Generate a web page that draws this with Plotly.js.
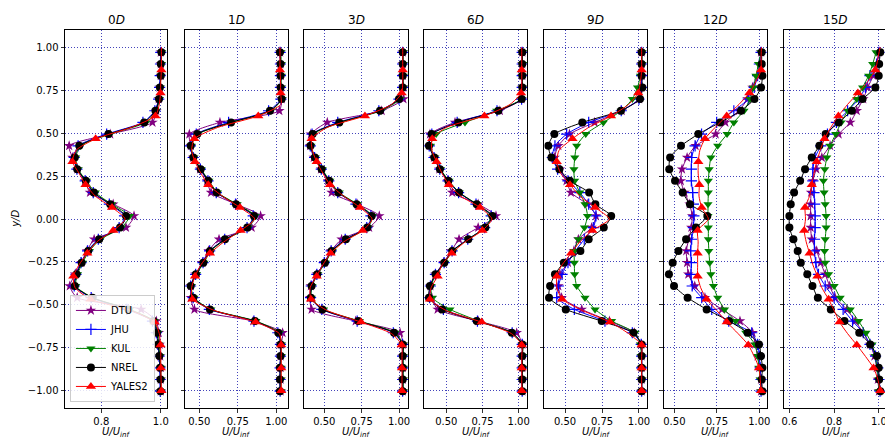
<!DOCTYPE html>
<html><head><meta charset="utf-8">
<script src="https://cdn.plot.ly/plotly-3.0.1.min.js"></script>
<style>html,body{margin:0;padding:0;overflow:hidden;background:#fff}#chart{width:887px;height:439px}</style>
</head><body><div id="chart"></div>
<script>
// ---------- data ----------
const STATIONS = ['0', '1', '3', '6', '9', '12', '15'];
const Y_GRID = [0.97, 0.902, 0.834, 0.766, 0.698, 0.63, 0.562, 0.494, 0.426, 0.358, 0.29, 0.222, 0.154, 0.086, 0.018,
  -0.05, -0.118, -0.186, -0.254, -0.322, -0.39, -0.458, -0.526, -0.594, -0.662, -0.73, -0.798, -0.866, -0.934, -1.002];
const Y_YALES2 = [1.0, 0.933, 0.867, 0.8, 0.733, 0.667, 0.6, 0.533, 0.467, 0.4, 0.333, 0.267, 0.2, 0.133, 0.067, 0.0,
  -0.067, -0.133, -0.2, -0.267, -0.333, -0.4, -0.467, -0.533, -0.6, -0.667, -0.733, -0.8, -0.867, -0.933, -1.0];
const Y_TICKS = [-1.0, -0.75, -0.5, -0.25, 0.0, 0.25, 0.5, 0.75, 1.0];
const Y_TICK_TEXT = ['\u22121.00', '\u22120.75', '\u22120.50', '\u22120.25', '0.00', '0.25', '0.50', '0.75', '1.00'];
const X_TICKS = [[0.8, 1.0], [0.5, 0.75, 1.0], [0.5, 0.75, 1.0], [0.5, 0.75, 1.0], [0.5, 0.75, 1.0], [0.5, 0.75, 1.0], [0.6, 0.8, 1.0]];
const X_TICK_TEXT = [['0.8', '1.0'], ['0.50', '0.75', '1.00'], ['0.50', '0.75', '1.00'], ['0.50', '0.75', '1.00'], ['0.50', '0.75', '1.00'], ['0.50', '0.75', '1.00'], ['0.6', '0.8', '1.0']];

// 0D
const DTU_0D = [1.0, 1.0, 1.0, 0.996, 0.993, 0.985, 0.972, 0.83, 0.692, 0.703, 0.72, 0.745, 0.762, 0.84, 0.91, 0.883, 0.776, 0.752, 0.733, 0.712, 0.694, 0.719, 0.934, 0.985, 0.993, 0.996, 0.998, 1.0, 1.0, 1.0];
const JHU_0D = [1.0, 0.999, 0.998, 0.996, 0.993, 0.98, 0.94, 0.818, 0.722, 0.709, 0.718, 0.746, 0.773, 0.827, 0.878, 0.86, 0.79, 0.754, 0.732, 0.715, 0.709, 0.766, 0.886, 0.972, 0.985, 0.99, 0.994, 0.997, 0.998, 0.998];
const KUL_0D = [1.003, 1.002, 1.0, 0.998, 0.995, 0.985, 0.95, 0.83, 0.73, 0.714, 0.722, 0.75, 0.78, 0.835, 0.895, 0.868, 0.797, 0.76, 0.737, 0.72, 0.714, 0.771, 0.895, 0.978, 0.99, 0.993, 0.997, 1.0, 1.0, 1.0];
const NREL_0D = [1.002, 1.0, 1.0, 0.997, 0.994, 0.982, 0.944, 0.824, 0.726, 0.711, 0.719, 0.748, 0.775, 0.83, 0.883, 0.863, 0.793, 0.756, 0.734, 0.717, 0.711, 0.77, 0.891, 0.975, 0.987, 0.991, 0.995, 0.998, 0.999, 0.999];
const YALES2_0D = [1.002, 1.002, 1.002, 1.0, 0.999, 0.995, 0.982, 0.9, 0.781, 0.715, 0.703, 0.725, 0.747, 0.78, 0.836, 0.88, 0.84, 0.785, 0.753, 0.725, 0.706, 0.712, 0.764, 0.9, 0.979, 0.995, 0.999, 1.0, 1.0, 1.001, 1.002];
// 1D
const DTU_1D = [1.025, 1.028, 1.03, 1.03, 1.035, 1.02, 0.634, 0.435, 0.445, 0.46, 0.505, 0.55, 0.576, 0.74, 0.898, 0.84, 0.628, 0.56, 0.52, 0.475, 0.445, 0.445, 0.468, 0.85, 1.041, 1.03, 1.028, 1.028, 1.028, 1.028];
const JHU_1D = [1.025, 1.027, 1.027, 1.027, 1.03, 0.95, 0.69, 0.48, 0.442, 0.46, 0.507, 0.556, 0.61, 0.735, 0.85, 0.81, 0.665, 0.567, 0.524, 0.476, 0.443, 0.46, 0.565, 0.855, 1.01, 1.027, 1.027, 1.025, 1.025, 1.025];
const KUL_1D = [1.03, 1.032, 1.032, 1.032, 1.036, 0.965, 0.712, 0.49, 0.447, 0.464, 0.512, 0.562, 0.618, 0.745, 0.862, 0.818, 0.672, 0.574, 0.53, 0.482, 0.447, 0.465, 0.575, 0.868, 1.02, 1.032, 1.032, 1.03, 1.03, 1.03];
const NREL_1D = [1.024, 1.028, 1.028, 1.028, 1.035, 0.959, 0.706, 0.487, 0.444, 0.461, 0.509, 0.558, 0.613, 0.738, 0.855, 0.812, 0.667, 0.569, 0.526, 0.478, 0.444, 0.461, 0.569, 0.861, 1.013, 1.028, 1.028, 1.024, 1.024, 1.024];
const YALES2_1D = [1.024, 1.024, 1.024, 1.028, 1.028, 1.03, 0.883, 0.62, 0.468, 0.45, 0.472, 0.51, 0.558, 0.65, 0.764, 0.86, 0.768, 0.66, 0.569, 0.51, 0.472, 0.45, 0.455, 0.6, 0.866, 1.02, 1.032, 1.032, 1.032, 1.032, 1.032];
// 3D
const DTU_3D = [1.025, 1.025, 1.025, 1.028, 1.03, 0.884, 0.52, 0.41, 0.405, 0.43, 0.478, 0.525, 0.549, 0.72, 0.868, 0.80, 0.616, 0.545, 0.5, 0.45, 0.41, 0.405, 0.415, 0.71, 1.007, 1.025, 1.025, 1.025, 1.025, 1.025];
const JHU_3D = [1.024, 1.024, 1.024, 1.024, 1.0, 0.865, 0.59, 0.418, 0.406, 0.435, 0.48, 0.53, 0.59, 0.712, 0.812, 0.784, 0.64, 0.546, 0.5, 0.45, 0.413, 0.408, 0.483, 0.72, 0.962, 1.024, 1.024, 1.024, 1.024, 1.024];
const KUL_3D = [1.028, 1.028, 1.028, 1.028, 1.008, 0.88, 0.61, 0.425, 0.41, 0.44, 0.486, 0.537, 0.6, 0.722, 0.822, 0.792, 0.65, 0.553, 0.508, 0.456, 0.418, 0.413, 0.495, 0.735, 0.975, 1.028, 1.028, 1.028, 1.028, 1.028];
const NREL_3D = [1.025, 1.025, 1.025, 1.025, 1.0, 0.873, 0.6, 0.422, 0.408, 0.437, 0.482, 0.533, 0.594, 0.716, 0.817, 0.788, 0.645, 0.549, 0.504, 0.453, 0.415, 0.41, 0.487, 0.728, 0.967, 1.025, 1.025, 1.025, 1.025, 1.025];
const YALES2_3D = [1.025, 1.025, 1.025, 1.025, 1.018, 0.95, 0.772, 0.52, 0.415, 0.42, 0.449, 0.49, 0.538, 0.63, 0.739, 0.82, 0.757, 0.63, 0.542, 0.49, 0.449, 0.405, 0.411, 0.52, 0.746, 0.95, 1.018, 1.02, 1.02, 1.02, 1.02];
// 6D
const DTU_6D = [1.025, 1.025, 1.025, 1.025, 1.02, 0.87, 0.56, 0.387, 0.385, 0.415, 0.452, 0.51, 0.541, 0.72, 0.843, 0.72, 0.588, 0.535, 0.48, 0.425, 0.39, 0.4, 0.44, 0.72, 0.986, 1.025, 1.025, 1.025, 1.025, 1.025];
const JHU_6D = [1.024, 1.024, 1.024, 1.024, 1.02, 0.85, 0.575, 0.4, 0.382, 0.415, 0.455, 0.512, 0.585, 0.705, 0.81, 0.765, 0.648, 0.54, 0.485, 0.425, 0.39, 0.385, 0.48, 0.715, 0.955, 1.024, 1.024, 1.024, 1.024, 1.024];
const KUL_6D = [1.026, 1.026, 1.026, 1.026, 1.018, 0.848, 0.629, 0.43, 0.39, 0.42, 0.46, 0.518, 0.59, 0.712, 0.81, 0.765, 0.65, 0.545, 0.49, 0.43, 0.395, 0.403, 0.525, 0.725, 0.955, 1.026, 1.026, 1.026, 1.026, 1.026];
const NREL_6D = [1.025, 1.025, 1.025, 1.025, 1.021, 0.859, 0.583, 0.399, 0.38, 0.417, 0.456, 0.514, 0.588, 0.71, 0.818, 0.77, 0.652, 0.541, 0.486, 0.426, 0.387, 0.38, 0.472, 0.71, 0.952, 1.025, 1.025, 1.025, 1.025, 1.025];
const YALES2_6D = [1.021, 1.021, 1.021, 1.021, 1.016, 0.94, 0.763, 0.5, 0.403, 0.4, 0.433, 0.47, 0.518, 0.6, 0.733, 0.815, 0.749, 0.63, 0.537, 0.47, 0.44, 0.395, 0.387, 0.5, 0.744, 0.95, 1.021, 1.021, 1.021, 1.021, 1.021];
// 9D
const DTU_9D = [1.018, 1.018, 1.018, 1.015, 1.0, 0.883, 0.7, 0.53, 0.455, 0.43, 0.466, 0.51, 0.54, 0.65, 0.709, 0.68, 0.59, 0.56, 0.52, 0.466, 0.455, 0.477, 0.613, 0.8, 0.97, 1.015, 1.018, 1.018, 1.018, 1.018];
const JHU_9D = [1.018, 1.018, 1.018, 1.016, 1.0, 0.88, 0.66, 0.511, 0.432, 0.414, 0.45, 0.52, 0.6, 0.66, 0.709, 0.691, 0.63, 0.57, 0.52, 0.48, 0.455, 0.444, 0.563, 0.77, 0.955, 1.015, 1.018, 1.018, 1.018, 1.018];
const KUL_9D = [1.02, 1.02, 1.01, 0.99, 0.955, 0.88, 0.759, 0.64, 0.579, 0.566, 0.56, 0.565, 0.6, 0.635, 0.652, 0.631, 0.59, 0.563, 0.563, 0.565, 0.579, 0.635, 0.703, 0.815, 0.973, 1.01, 1.015, 1.018, 1.018, 1.018];
const NREL_9D = [1.018, 1.018, 1.018, 1.023, 1.007, 0.878, 0.617, 0.428, 0.387, 0.408, 0.462, 0.532, 0.663, 0.705, 0.812, 0.762, 0.66, 0.604, 0.492, 0.432, 0.399, 0.392, 0.505, 0.748, 0.962, 1.018, 1.018, 1.018, 1.018, 1.018];
const YALES2_9D = [1.018, 1.018, 1.018, 1.01, 0.995, 0.93, 0.811, 0.66, 0.55, 0.46, 0.444, 0.47, 0.534, 0.6, 0.703, 0.80, 0.685, 0.6, 0.541, 0.48, 0.444, 0.445, 0.48, 0.62, 0.804, 0.93, 1.018, 1.018, 1.018, 1.018, 1.018];
// 12D
const DTU_12D = [1.01, 1.005, 0.99, 0.96, 0.93, 0.88, 0.8, 0.743, 0.625, 0.575, 0.545, 0.538, 0.56, 0.59, 0.605, 0.6, 0.585, 0.57, 0.575, 0.582, 0.62, 0.68, 0.78, 0.886, 0.96, 0.975, 0.99, 1.0, 1.01, 1.01];
const JHU_12D = [1.01, 1.0, 0.99, 0.97, 0.935, 0.85, 0.749, 0.66, 0.622, 0.602, 0.6, 0.6, 0.608, 0.612, 0.615, 0.612, 0.602, 0.596, 0.6, 0.598, 0.605, 0.661, 0.72, 0.82, 0.955, 0.99, 1.0, 1.005, 1.01, 1.01];
const KUL_12D = [1.01, 0.995, 0.98, 0.965, 0.945, 0.91, 0.85, 0.81, 0.755, 0.715, 0.705, 0.70, 0.70, 0.698, 0.698, 0.70, 0.70, 0.703, 0.708, 0.715, 0.73, 0.755, 0.795, 0.86, 0.92, 0.975, 0.99, 0.998, 1.005, 1.01];
const NREL_12D = [1.014, 1.014, 1.018, 1.01, 0.971, 0.892, 0.769, 0.641, 0.539, 0.475, 0.47, 0.504, 0.549, 0.592, 0.694, 0.627, 0.569, 0.524, 0.49, 0.468, 0.498, 0.578, 0.69, 0.822, 0.931, 0.998, 1.01, 1.018, 1.014, 1.018];
const YALES2_12D = [1.012, 1.01, 1.01, 0.98, 0.941, 0.88, 0.808, 0.74, 0.68, 0.65, 0.641, 0.64, 0.647, 0.645, 0.661, 0.70, 0.637, 0.64, 0.637, 0.637, 0.637, 0.655, 0.69, 0.75, 0.808, 0.875, 0.935, 0.97, 0.998, 1.005, 1.01];
// 15D
const DTU_15D = [1.0, 0.99, 0.975, 0.95, 0.93, 0.901, 0.872, 0.82, 0.782, 0.745, 0.72, 0.705, 0.697, 0.695, 0.695, 0.695, 0.7, 0.722, 0.74, 0.76, 0.78, 0.804, 0.857, 0.894, 0.93, 0.96, 0.98, 0.99, 0.995, 1.0];
const JHU_15D = [1.0, 0.99, 0.96, 0.94, 0.91, 0.86, 0.81, 0.77, 0.74, 0.715, 0.705, 0.705, 0.71, 0.713, 0.715, 0.715, 0.712, 0.712, 0.718, 0.73, 0.76, 0.8, 0.84, 0.882, 0.93, 0.96, 0.985, 0.995, 1.0, 1.005];
const KUL_15D = [0.987, 0.972, 0.954, 0.927, 0.901, 0.861, 0.831, 0.807, 0.782, 0.767, 0.758, 0.752, 0.755, 0.76, 0.764, 0.764, 0.76, 0.757, 0.76, 0.775, 0.8, 0.827, 0.872, 0.909, 0.942, 0.969, 0.984, 0.991, 0.999, 1.0];
const NREL_15D = [1.006, 1.001, 0.999, 0.984, 0.927, 0.879, 0.82, 0.762, 0.734, 0.7, 0.67, 0.648, 0.621, 0.606, 0.6, 0.6, 0.618, 0.637, 0.651, 0.68, 0.703, 0.727, 0.785, 0.846, 0.912, 0.961, 0.991, 0.999, 1.001, 1.006];
const YALES2_15D = [1.005, 0.995, 0.984, 0.95, 0.906, 0.86, 0.819, 0.785, 0.757, 0.738, 0.722, 0.71, 0.70, 0.69, 0.67, 0.672, 0.666, 0.675, 0.69, 0.705, 0.725, 0.745, 0.775, 0.8, 0.824, 0.86, 0.901, 0.94, 0.976, 0.995, 1.006];

// ---------- styling / assembly ----------
const FONT = 'DejaVu Sans, Verdana, sans-serif';
// markEvery: YALES2 line has more samples than markers (every 2nd sample from the bottom carries a marker)
const SERIES = [
  {name: 'DTU', y: Y_GRID, data: [DTU_0D, DTU_1D, DTU_3D, DTU_6D, DTU_9D, DTU_12D, DTU_15D], color: '#800080', symbol: 'star', size: 8, markEvery: 1},
  {name: 'JHU', y: Y_GRID, data: [JHU_0D, JHU_1D, JHU_3D, JHU_6D, JHU_9D, JHU_12D, JHU_15D], color: '#0000ff', symbol: 'cross-thin-open', size: 8, markEvery: 1},
  {name: 'KUL', y: Y_GRID, data: [KUL_0D, KUL_1D, KUL_3D, KUL_6D, KUL_9D, KUL_12D, KUL_15D], color: '#008000', symbol: 'triangle-down', size: 8, markEvery: 1},
  {name: 'NREL', y: Y_GRID, data: [NREL_0D, NREL_1D, NREL_3D, NREL_6D, NREL_9D, NREL_12D, NREL_15D], color: '#000000', symbol: 'circle', size: 8, markEvery: 1},
  {name: 'YALES2', y: Y_YALES2, data: [YALES2_0D, YALES2_1D, YALES2_3D, YALES2_6D, YALES2_9D, YALES2_12D, YALES2_15D], color: '#ff0000', symbol: 'triangle-up', size: 9, markEvery: 2}
];
const X_RANGES = [[0.678, 1.022], [0.407, 1.074], [0.366, 1.062], [0.348, 1.057], [0.36, 1.054], [0.439, 1.045], [0.576, 1.036]];
const DOMAINS = [[0, 0.1245], [0.146, 0.2709], [0.2911, 0.4176], [0.4371, 0.562], [0.5831, 0.708], [0.7287, 0.854], [0.8747, 1.0]];

function hexToTransparent(hex) {
  const n = parseInt(hex.slice(1), 16);
  return 'rgba(' + ((n >> 16) & 255) + ',' + ((n >> 8) & 255) + ',' + (n & 255) + ',0)';
}

const traces = [];
STATIONS.forEach((st, i) => {
  const suf = i === 0 ? '' : String(i + 1);
  SERIES.forEach(s => {
    const open = s.symbol.indexOf('open') >= 0;
    // plot bottom-to-top so the first sample carries a marker
    const xs = s.data[i].slice().reverse();
    const ys = s.y.slice().reverse();
    let mcolor = s.color;
    if (s.markEvery > 1) {
      const clear = hexToTransparent(s.color);
      mcolor = ys.map((_, j) => (j % s.markEvery === 0 && j < ys.length - 1) ? s.color : clear);
    }
    traces.push({
      type: 'scatter', mode: 'lines+markers', name: s.name, legendgroup: s.name,
      showlegend: i === 0,
      x: xs, y: ys, xaxis: 'x' + suf, yaxis: 'y' + suf,
      line: {color: s.color, width: 1, shape: 'spline', smoothing: 0.6},
      marker: {symbol: s.symbol, size: s.size, color: mcolor,
               line: {width: open ? 1.2 : 0, color: s.color}}
    });
  });
});

const GRID = 'rgb(20,20,170)';
const layout = {
  width: 887, height: 439,
  margin: {l: 65, r: 0, t: 30, b: 31},
  paper_bgcolor: '#ffffff', plot_bgcolor: '#ffffff',
  font: {family: FONT, size: 10, color: '#000'},
  showlegend: true,
  legend: {x: 0.006, y: 0.016, xanchor: 'left', yanchor: 'bottom',
           bgcolor: 'rgba(255,255,255,0.85)', bordercolor: '#cccccc', borderwidth: 1,
           font: {family: FONT, size: 10, color: '#000'}, tracegroupgap: 0},
  annotations: []
};
STATIONS.forEach((st, i) => {
  const suf = i === 0 ? '' : String(i + 1);
  layout['xaxis' + suf] = {
    domain: DOMAINS[i], anchor: 'y' + suf, range: X_RANGES[i],
    tickmode: 'array', tickvals: X_TICKS[i], ticktext: X_TICK_TEXT[i],
    ticks: 'outside', ticklen: 3.5, tickwidth: 0.8, tickcolor: '#000',
    tickfont: {family: FONT, size: 10, color: '#000'},
    showgrid: true, gridcolor: GRID, gridwidth: 0.8, griddash: '1px,2px',
    showline: true, linecolor: '#000', linewidth: 1, mirror: true, zeroline: false
  };
  layout['yaxis' + suf] = {
    domain: [0, 1], anchor: 'x' + suf, range: [-1.1, 1.1],
    tickmode: 'array', tickvals: Y_TICKS, ticktext: Y_TICK_TEXT, showticklabels: i === 0,
    ticks: 'outside', ticklen: 3.5, tickwidth: 0.8, tickcolor: '#000',
    tickfont: {family: FONT, size: 10, color: '#000'},
    showgrid: true, gridcolor: GRID, gridwidth: 0.8, griddash: '1px,2px',
    showline: true, linecolor: '#000', linewidth: 1, mirror: true, zeroline: false
  };
  const cx = (DOMAINS[i][0] + DOMAINS[i][1]) / 2;
  layout.annotations.push({
    text: st + '<i>D</i>', xref: 'paper', yref: 'paper', x: cx, y: 1.026,
    xanchor: 'center', yanchor: 'middle', showarrow: false,
    font: {family: FONT, size: 12, color: '#000'}
  });
  layout.annotations.push({
    text: '<i>U/U</i><sub><i>inf</i></sub>', xref: 'paper', yref: 'paper', x: cx, y: -0.064,
    xanchor: 'center', yanchor: 'middle', showarrow: false,
    font: {family: FONT, size: 10, color: '#000'}
  });
});
layout.annotations.push({
  text: '<i>y/D</i>', xref: 'paper', yref: 'paper', x: -0.061, y: 0.5, textangle: -90,
  xanchor: 'center', yanchor: 'middle', showarrow: false,
  font: {family: FONT, size: 10, color: '#000'}
});

Plotly.newPlot('chart', traces, layout, {staticPlot: true, displayModeBar: false});
</script>
</body></html>
